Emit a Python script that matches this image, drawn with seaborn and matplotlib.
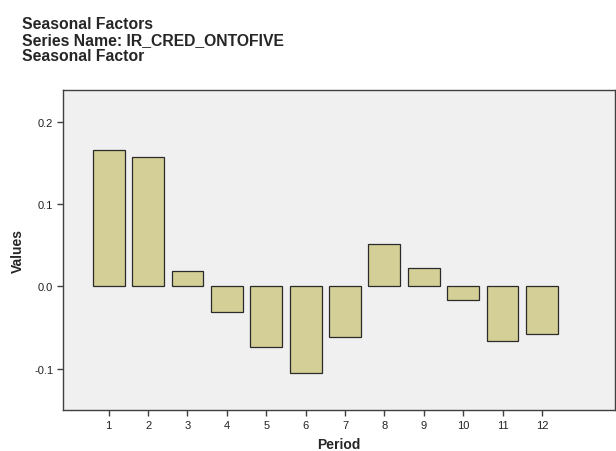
import pandas as pd
import numpy as np
import matplotlib
matplotlib.use("Agg")
import matplotlib.pyplot as plt
import seaborn as sns

# seasonal factors
periods = [str(i) for i in range(1, 13)]
factors = [0.166, 0.157, 0.019, -0.031, -0.074, -0.105,
           -0.061, 0.051, 0.022, -0.016, -0.066, -0.058]
y_ticks = [-0.1, 0.0, 0.1, 0.2]

df = pd.DataFrame({"Period": periods, "Values": factors})

sns.set_style("white")
plt.rcParams['font.family'] = ['Liberation Sans', 'DejaVu Sans']

fig = plt.figure(figsize=(6.16, 4.52), dpi=100)
ax = fig.add_axes([0.1023, 0.0907, 0.8957, 0.708])
ax.set_facecolor('#f0f0f0')

sns.barplot(data=df, x="Period", y="Values", order=periods, color='#d4cf96',
            saturation=1, width=0.81, edgecolor='#2b2b2b', linewidth=0.9, ax=ax)

ax.set_xlim(-1.16, 12.85)
ax.set_ylim(-0.150, 0.2385)
ax.set_yticks(y_ticks)
ax.set_yticklabels(['-0.1', '0.0', '0.1', '0.2'])

for sp in ax.spines.values():
    sp.set_visible(True)
    sp.set_color('#404040')
    sp.set_linewidth(1.0)

ax.tick_params(axis='both', direction='out', length=4, width=1, color='#404040',
               labelsize=8, labelcolor='#222222', bottom=True, left=True, pad=3)

ax.set_xlabel('Period', fontsize=10, fontweight='bold', labelpad=5)
ax.set_ylabel('Values', fontsize=10, fontweight='bold', labelpad=7)

fig.text(0.036, 0.962, 'Seasonal Factors\nSeries Name: IR_CRED_ONTOFIVE\nSeasonal Factor',
         fontsize=11.3, fontweight='bold', va='top', ha='left', linespacing=1.08)

fig.savefig('out.png', dpi=100)
